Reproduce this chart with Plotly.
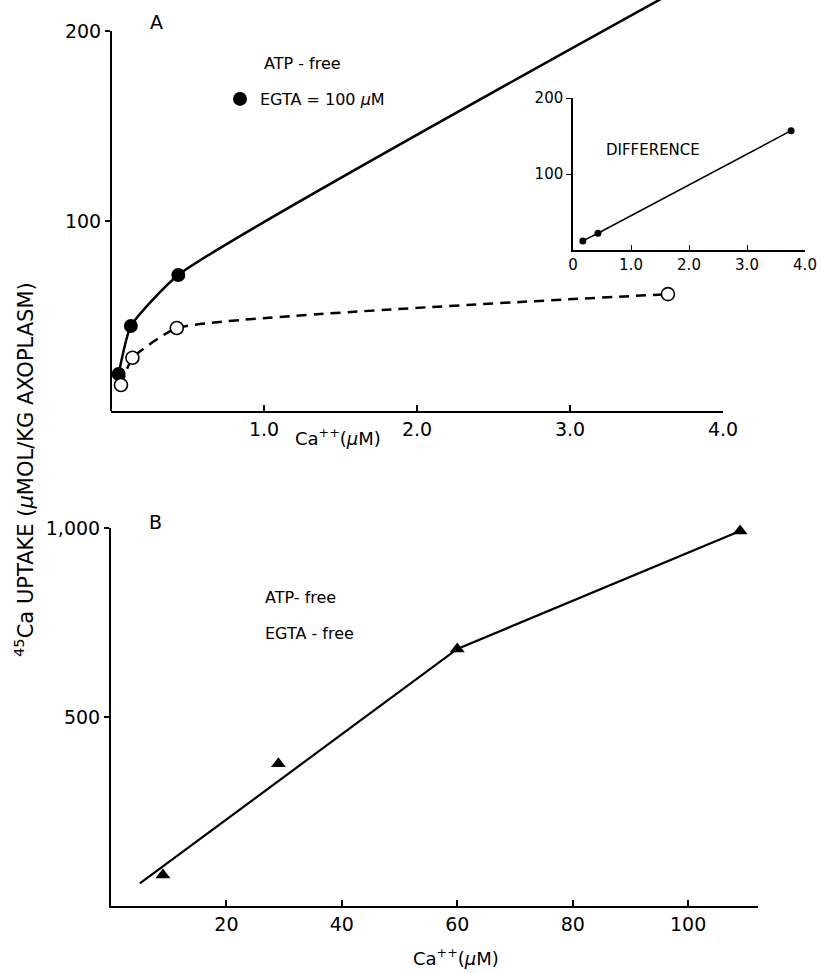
import plotly.graph_objects as go

W, H = 820, 973
FONT = "DejaVu Sans"

# ---- Panel A data (Ca++ in uM, uptake in umol/kg axoplasm) ----
egta_x = [0.05, 0.13, 0.44, 3.62]
egta_y = [19.5, 44.7, 71.6, 218]
open_x = [0.065, 0.14, 0.43, 3.64]
open_y = [13.7, 28.0, 43.7, 61.5]

# ---- Inset: difference ----
diff_x = [0.17, 0.43, 3.76]
diff_y = [12, 22, 157]

# ---- Panel B data ----
b_x = [9, 29, 60, 109]
b_y = [82, 376, 680, 992]
b_fit_x = [5, 60, 109]
b_fit_y = [60, 680, 992]

a_xticks = [1, 2, 3, 4]
a_xticktext = ["1.0", "2.0", "3.0", "4.0"]
a_yticks = [100, 200]
in_xticks = [0, 1, 2, 3, 4]
in_xticktext = ["0", "1.0", "2.0", "3.0", "4.0"]
in_yticks = [100, 200]
b_xticks = [20, 40, 60, 80, 100]
b_yticks = [500, 1000]
b_yticktext = ["500", "1,000"]


def px(x):
    return x / W


def py(y):
    return 1 - y / H


fig = go.Figure()

fig.add_trace(go.Scatter(
    x=egta_x, y=egta_y, mode="lines+markers", xaxis="x", yaxis="y",
    line=dict(color="black", width=2.5, shape="spline", smoothing=0.5),
    marker=dict(symbol="circle", size=14, color="black"),
    cliponaxis=False, showlegend=False))
fig.add_trace(go.Scatter(
    x=open_x, y=open_y, mode="lines+markers", xaxis="x", yaxis="y",
    line=dict(color="black", width=2.5, dash="10px,7px", shape="spline", smoothing=0.4),
    marker=dict(symbol="circle", size=13, color="white", line=dict(color="black", width=1.6)),
    cliponaxis=False, showlegend=False))
fig.add_trace(go.Scatter(
    x=[None], y=[None], mode="markers", xaxis="x", yaxis="y",
    marker=dict(symbol="circle", size=14, color="black"),
    name="EGTA = 100 <i>µ</i>M", showlegend=True))

fig.add_trace(go.Scatter(
    x=diff_x, y=diff_y, mode="lines+markers", xaxis="x2", yaxis="y2",
    line=dict(color="black", width=1.5),
    marker=dict(symbol="circle", size=7, color="black"),
    cliponaxis=False, showlegend=False))

fig.add_trace(go.Scatter(
    x=b_fit_x, y=b_fit_y, mode="lines", xaxis="x3", yaxis="y3",
    line=dict(color="black", width=2.2), showlegend=False))
fig.add_trace(go.Scatter(
    x=b_x, y=b_y, mode="markers", xaxis="x3", yaxis="y3",
    marker=dict(symbol="triangle-up", size=13, color="black"),
    cliponaxis=False, showlegend=False))

tickfont = dict(family=FONT, size=19, color="black")
smallfont = dict(family=FONT, size=15, color="black")

fig.update_layout(
    width=W, height=H, autosize=False,
    margin=dict(l=0, r=0, t=0, b=0, pad=0, autoexpand=False),
    paper_bgcolor="white", plot_bgcolor="white",
    font=dict(family=FONT, color="black"),
    showlegend=True,
    legend=dict(x=px(220), y=py(99), xanchor="left", yanchor="middle",
                bgcolor="rgba(0,0,0,0)", font=dict(family=FONT, size=16, color="black")),
    xaxis=dict(domain=[px(111), px(723)], range=[0, 4], anchor="y",
               showline=True, linecolor="black", linewidth=2, showgrid=False, zeroline=False,
               tickmode="array", tickvals=a_xticks, ticktext=a_xticktext,
               ticks="inside", ticklen=6, tickwidth=1.5, tickcolor="black", tickfont=tickfont),
    yaxis=dict(domain=[py(411), 1], range=[0, 411 / 1.9], anchor="x",
               showline=False, showgrid=False, zeroline=False,
               tickmode="array", tickvals=a_yticks,
               ticks="outside", ticklen=5, tickwidth=1.5, tickcolor="black", tickfont=tickfont),
    xaxis2=dict(domain=[px(573), px(805)], range=[0, 4], anchor="y2",
                showline=True, linecolor="black", linewidth=1.5, showgrid=False, zeroline=False,
                tickmode="array", tickvals=in_xticks, ticktext=in_xticktext,
                ticks="inside", ticklen=5, tickwidth=1.2, tickcolor="black", tickfont=smallfont),
    yaxis2=dict(domain=[py(250), py(98)], range=[0, 200], anchor="x2",
                showline=True, linecolor="black", linewidth=1.5, showgrid=False, zeroline=False,
                tickmode="array", tickvals=in_yticks,
                ticks="outside", ticklen=5, tickwidth=1.2, tickcolor="black", tickfont=smallfont),
    xaxis3=dict(domain=[px(111), px(758)], range=[0, 112.1], anchor="y3",
                showline=True, linecolor="black", linewidth=2, showgrid=False, zeroline=False,
                tickmode="array", tickvals=b_xticks,
                ticks="inside", ticklen=6, tickwidth=1.5, tickcolor="black", tickfont=tickfont),
    yaxis3=dict(domain=[py(906), py(528)], range=[0, 1000], anchor="x3",
                showline=True, linecolor="black", linewidth=2, showgrid=False, zeroline=False,
                tickmode="array", tickvals=b_yticks, ticktext=b_yticktext,
                ticks="outside", ticklen=5, tickwidth=1.5, tickcolor="black", tickfont=tickfont),
)

# panel A y axis line, stopping at the 200 tick
fig.add_shape(type="line", xref="paper", yref="y", x0=px(111), x1=px(111), y0=0, y1=200,
              line=dict(color="black", width=2))


def note(x, y, text, size=16, xanchor="left", angle=0):
    fig.add_annotation(x=px(x), y=py(y), xref="paper", yref="paper", text=text,
                       showarrow=False, xanchor=xanchor, yanchor="middle", textangle=angle,
                       font=dict(family=FONT, size=size, color="black"))


note(156, 22, "A", size=19, xanchor="center")
note(262, 63, "ATP - free", size=16)
note(653, 150, "DIFFERENCE", size=15, xanchor="center")
note(338, 437, "Ca<sup>++</sup>(<i>µ</i>M)", size=18, xanchor="center")
note(155, 522, "B", size=19, xanchor="center")
note(263, 597, "ATP- free", size=16)
note(263, 633, "EGTA - free", size=16)
note(456, 957, "Ca<sup>++</sup>(<i>µ</i>M)", size=18, xanchor="center")
note(24, 470, "<sup>45</sup>Ca UPTAKE (<i>µ</i>MOL/KG AXOPLASM)", size=21, xanchor="center", angle=-90)

fig.write_html("out.html")
